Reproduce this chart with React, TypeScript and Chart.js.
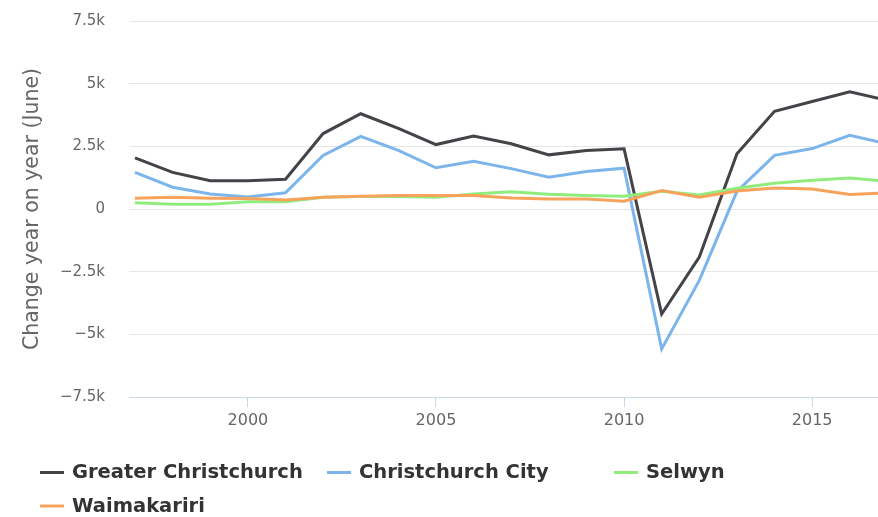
import { useEffect, useRef } from "react";
import { Chart, registerables } from "chart.js";

Chart.register(...registerables);

const years = [1997, 1998, 1999, 2000, 2001, 2002, 2003, 2004, 2005, 2006, 2007, 2008, 2009, 2010, 2011, 2012, 2013, 2014, 2015, 2016, 2017];

const greaterChristchurch = [2040, 1460, 1130, 1130, 1190, 3010, 3800, 3220, 2570, 2910, 2600, 2160, 2330, 2400, -4190, -1920, 2200, 3900, 4290, 4680, 4330];
const christchurchCity = [1460, 870, 600, 480, 650, 2140, 2900, 2340, 1645, 1900, 1610, 1270, 1500, 1630, -5580, -2850, 700, 2140, 2410, 2940, 2600];
const selwyn = [250, 190, 190, 290, 290, 470, 500, 500, 470, 600, 690, 590, 535, 510, 710, 560, 830, 1030, 1150, 1240, 1100];
const waimakariri = [430, 470, 430, 420, 360, 470, 510, 535, 535, 535, 440, 400, 400, 310, 735, 470, 720, 840, 800, 575, 650];

const seriesNames = ["Greater Christchurch", "Christchurch City", "Selwyn", "Waimakariri"];
const seriesColors = ["#434348", "#7cb5ec", "#90ed7d", "#f7a35c"];

const xTicks = [2000, 2005, 2010, 2015];
const yTicks = [-7500, -5000, -2500, 0, 2500, 5000, 7500];

const FONT = '"DejaVu Sans", sans-serif';

function fmtK(v: number): string {
  if (v === 0) return "0";
  const s = String(Math.abs(v) / 1000) + "k";
  return v < 0 ? "\u2212" + s : s;
}

const legendPlugin = {
  id: "customLegend",
  afterDraw(chart: any) {
    const ctx = chart.ctx as CanvasRenderingContext2D;
    ctx.save();
    ctx.font = `bold 19.5px ${FONT}`;
    ctx.textBaseline = "alphabetic";
    ctx.textAlign = "left";
    seriesNames.forEach((name, i) => {
      const row = Math.floor(i / 3);
      const col = i % 3;
      const x = 40 + col * 287;
      const baseline = 478 + row * 33.5;
      const symY = baseline - 5.5;
      ctx.strokeStyle = seriesColors[i];
      ctx.lineWidth = 3;
      ctx.beginPath();
      ctx.moveTo(x, symY);
      ctx.lineTo(x + 24, symY);
      ctx.stroke();
      ctx.fillStyle = "#333333";
      ctx.fillText(name, x + 32, baseline);
    });
    ctx.restore();
  },
};

export default function App() {
  const canvasRef = useRef<HTMLCanvasElement | null>(null);

  useEffect(() => {
    if (!canvasRef.current) return;
    const allSeries = [greaterChristchurch, christchurchCity, selwyn, waimakariri];
    const chart = new Chart(canvasRef.current, {
      type: "line",
      data: {
        datasets: allSeries.map((vals, i) => ({
          label: seriesNames[i],
          data: years.map((yr, j) => ({ x: yr, y: vals[j] })),
          borderColor: seriesColors[i],
          backgroundColor: seriesColors[i],
          borderWidth: 3,
          pointRadius: 0,
          tension: 0,
          fill: false,
          order: allSeries.length - i,
        })),
      },
      options: {
        animation: false,
        responsive: false,
        devicePixelRatio: 1,
        layout: { padding: { top: 21, right: 0, left: 0, bottom: 0 } },
        plugins: {
          legend: { display: false },
          tooltip: { enabled: false },
        },
        scales: {
          x: {
            type: "linear",
            min: 1996.84,
            max: 2016.75,
            afterBuildTicks: (s: any) => {
              s.ticks = xTicks.map((v) => ({ value: v }));
            },
            afterFit: (s: any) => {
              s.height = 120;
              s.paddingLeft = 0;
              s.paddingRight = 0;
            },
            grid: { drawOnChartArea: false, color: "#ccd6eb", tickLength: 10, lineWidth: 1 },
            border: { color: "#ccd6eb", width: 1 },
            ticks: {
              color: "#666666",
              font: { family: FONT, size: 16 },
              padding: 4,
              maxRotation: 0,
              autoSkip: false,
              callback: (v: any) => String(v),
            },
          },
          y: {
            type: "linear",
            min: -7500,
            max: 7500,
            afterBuildTicks: (s: any) => {
              s.ticks = yTicks.map((v) => ({ value: v }));
            },
            afterFit: (s: any) => {
              s.width = 129;
              s.paddingTop = 0;
              s.paddingBottom = 0;
            },
            grid: { color: "#e6e6e6", drawTicks: false, lineWidth: 1 },
            border: { display: false },
            ticks: {
              color: "#666666",
              font: { family: FONT, size: 15 },
              padding: 24,
              callback: (v: any) => fmtK(Number(v)),
            },
            title: {
              display: true,
              text: "Change year on year (June)",
              color: "#666666",
              font: { family: FONT, size: 20.5 },
              padding: { top: 20, bottom: 0 },
            },
          },
        },
      },
      plugins: [legendPlugin],
    });
    return () => chart.destroy();
  }, []);

  return (
    <div style={{ position: "absolute", left: 0, top: 0, width: 878, height: 517, background: "#ffffff" }}>
      <canvas ref={canvasRef} width={878} height={517} style={{ display: "block" }} />
    </div>
  );
}
